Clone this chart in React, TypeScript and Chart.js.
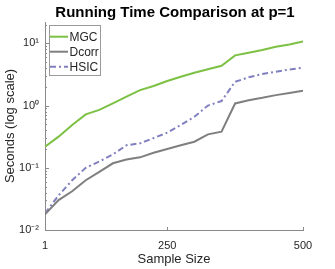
import React, { useEffect, useRef } from "react";
import { Chart, registerables } from "chart.js";

Chart.register(...registerables);

// Sample-size index (20 sizes, plotted by position)
const sampleIndex = [1, 2, 3, 4, 5, 6, 7, 8, 9, 10, 11, 12, 13, 14, 15, 16, 17, 18, 19, 20];
const mgcSeconds = [0.218, 0.316, 0.486, 0.72, 0.85, 1.08, 1.39, 1.77, 2.06, 2.48, 2.9, 3.37, 3.82, 4.36, 6.4, 7.06, 7.8, 8.8, 9.6, 10.7];
const dcorrSeconds = [0.0178, 0.0303, 0.042, 0.063, 0.086, 0.118, 0.136, 0.147, 0.174, 0.2, 0.23, 0.262, 0.344, 0.38, 1.08, 1.22, 1.33, 1.47, 1.59, 1.73];
const hsicSeconds = [0.0185, 0.036, 0.063, 0.1, 0.126, 0.164, 0.23, 0.247, 0.3, 0.366, 0.486, 0.66, 1.0, 1.18, 2.41, 2.84, 3.2, 3.5, 3.8, 4.05];
const seriesNames = ["MGC", "Dcorr", "HSIC"];
const xTickPositions = [1, 10, 20];
const xTickLabels = ["1", "250", "500"];
const yTickValues = [0.01, 0.1, 1, 10];
const yTickLabels = ["10⁻²", "10⁻¹", "10⁰", "10¹"];

const FONT = "'Liberation Sans', Arial, Helvetica, sans-serif";
const AXIS_COLOR = "#8a8a8a";
const TEXT_COLOR = "#262626";
const COLORS = ["#7cc144", "#7f7f7f", "#8080c0"];

const decorPlugin = {
  id: "decor",
  afterDraw(chart: any) {
    const ctx = chart.ctx;
    const { left, top, bottom } = chart.chartArea;
    const xs = chart.scales.x;
    const ys = chart.scales.y;
    ctx.save();
    ctx.strokeStyle = AXIS_COLOR;
    ctx.lineWidth = 1;
    ctx.beginPath();
    for (let d = -2; d <= 1; d++) {
      for (let m = 1; m <= 9; m++) {
        const v = m * Math.pow(10, d);
        if (v < ys.min - 1e-9 || v > ys.max) continue;
        const py = Math.round(ys.getPixelForValue(v)) + 0.5;
        const len = m === 1 ? 4 : 2;
        ctx.moveTo(left, py);
        ctx.lineTo(left + len, py);
      }
    }
    for (const xt of xTickPositions) {
      const px = Math.round(xs.getPixelForValue(xt)) + 0.5;
      ctx.moveTo(px, bottom);
      ctx.lineTo(px, bottom - 3);
    }
    ctx.stroke();

    // legend box inside plot (MATLAB style)
    const bx = left + 4.5;
    const by = top + 3.5;
    const bw = 51;
    const bh = 50;
    ctx.fillStyle = "#ffffff";
    ctx.fillRect(bx, by, bw, bh);
    ctx.strokeStyle = "#9a9a9a";
    ctx.strokeRect(bx, by, bw, bh);
    ctx.font = `12px ${FONT}`;
    ctx.textBaseline = "middle";
    ctx.textAlign = "left";
    chart.data.datasets.forEach((ds: any, i: number) => {
      const cy = top + 14.7 + i * 15;
      ctx.beginPath();
      ctx.strokeStyle = ds.borderColor;
      ctx.lineWidth = 2;
      ctx.setLineDash(ds.borderDash || []);
      ctx.moveTo(left + 5, cy);
      ctx.lineTo(left + 23, cy);
      ctx.stroke();
      ctx.setLineDash([]);
      ctx.fillStyle = TEXT_COLOR;
      ctx.fillText(ds.label, left + 24.5, cy + 0.5);
    });
    ctx.restore();
  },
};

export default function App() {
  const ref = useRef<HTMLCanvasElement | null>(null);
  useEffect(() => {
    if (!ref.current) return;
    const series = [mgcSeconds, dcorrSeconds, hsicSeconds];
    const chart = new Chart(ref.current, {
      type: "line",
      data: {
        datasets: series.map((vals, i) => ({
          label: seriesNames[i],
          data: sampleIndex.map((x, j) => ({ x, y: vals[j] })),
          borderColor: COLORS[i],
          borderWidth: 2,
          borderDash: i === 2 ? [6, 3, 2, 3] : [],
          pointRadius: 0,
          fill: false,
          tension: 0,
        })),
      },
      options: {
        responsive: false,
        animation: false,
        layout: { padding: { left: 15, right: 0, top: 0, bottom: 0 } },
        plugins: {
          legend: { display: false },
          tooltip: { enabled: false },
          title: {
            display: true,
            text: "Running Time Comparison at p=1",
            color: "#000000",
            font: { family: FONT, size: 15, weight: "bold", lineHeight: 1.1 },
            padding: { top: 5, bottom: 0.5 },
          },
        },
        scales: {
          x: {
            type: "linear",
            min: 1,
            max: 20,
            afterBuildTicks: (s: any) => {
              s.ticks = xTickPositions.map((v) => ({ value: v }));
            },
            afterFit: (s: any) => {
              s.height = 39;
            },
            ticks: {
              autoSkip: false,
              maxRotation: 0,
              padding: 9,
              color: TEXT_COLOR,
              font: { family: FONT, size: 11 },
              callback: (v: any) => {
                const k = xTickPositions.indexOf(Number(v));
                return k >= 0 ? xTickLabels[k] : "";
              },
            },
            grid: { display: false, drawTicks: false },
            border: { display: true, color: AXIS_COLOR, width: 1 },
            title: {
              display: true,
              text: "Sample Size",
              color: TEXT_COLOR,
              font: { family: FONT, size: 13, lineHeight: 1.2 },
              padding: { top: 0, bottom: 1.8 },
            },
          },
          y: {
            type: "logarithmic",
            min: 0.01,
            max: 22,
            afterBuildTicks: (s: any) => {
              s.ticks = yTickValues.map((v) => ({ value: v, major: true }));
            },
            afterFit: (s: any) => {
              s.width = 30;
            },
            ticks: {
              autoSkip: false,
              padding: 6,
              color: TEXT_COLOR,
              font: { family: FONT, size: 11 },
              callback: (v: any) => {
                const k = yTickValues.findIndex((t) => Math.abs(t - Number(v)) < t * 1e-6);
                return k >= 0 ? yTickLabels[k] : "";
              },
            },
            grid: { display: false, drawTicks: false },
            border: { display: true, color: AXIS_COLOR, width: 1 },
            title: {
              display: true,
              text: "Seconds (log scale)",
              color: TEXT_COLOR,
              font: { family: FONT, size: 13, lineHeight: 1.2 },
              padding: { top: -12.5, bottom: 0 },
            },
          },
          yRight: {
            type: "linear",
            position: "right",
            display: true,
            afterFit: (s: any) => {
              s.width = 32;
            },
            ticks: { display: false },
            grid: { display: false, drawTicks: false },
            border: { display: false },
          },
        },
      },
      plugins: [decorPlugin],
    } as any);
    return () => chart.destroy();
  }, []);
  return (
    <div style={{ position: "fixed", left: 0, top: 0, width: 335, height: 269, background: "#fff" }}>
      <canvas ref={ref} width={335} height={269} style={{ display: "block" }} />
    </div>
  );
}
